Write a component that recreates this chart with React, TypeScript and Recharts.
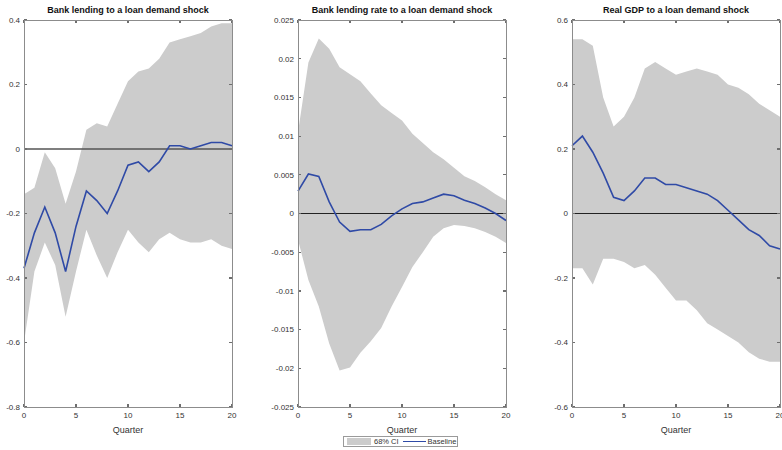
import { ComposedChart, Area, Line, XAxis, YAxis, ReferenceLine } from 'recharts'

const quarters = [0, 1, 2, 3, 4, 5, 6, 7, 8, 9, 10, 11, 12, 13, 14, 15, 16, 17, 18, 19, 20]

// Bank lending
const lendBase = [-0.37, -0.26, -0.18, -0.26, -0.38, -0.24, -0.13, -0.16, -0.2, -0.13, -0.05, -0.04, -0.07, -0.04, 0.01, 0.01, 0.0, 0.01, 0.02, 0.02, 0.01]
const lendUpper = [-0.14, -0.12, -0.01, -0.06, -0.17, -0.07, 0.06, 0.08, 0.07, 0.14, 0.21, 0.24, 0.25, 0.28, 0.33, 0.34, 0.35, 0.36, 0.38, 0.39, 0.39]
const lendLower = [-0.6, -0.38, -0.29, -0.36, -0.52, -0.38, -0.25, -0.33, -0.4, -0.32, -0.25, -0.29, -0.32, -0.28, -0.26, -0.28, -0.29, -0.29, -0.28, -0.3, -0.31]
const lendTicks = [-0.8, -0.6, -0.4, -0.2, 0, 0.2, 0.4]

// Bank lending rate
const rateBase = [0.0029, 0.0051, 0.0048, 0.0015, -0.0011, -0.0023, -0.0021, -0.0021, -0.0014, -0.0003, 0.0006, 0.0013, 0.0015, 0.002, 0.0025, 0.0023, 0.0017, 0.0013, 0.0007, 0.0, -0.0009]
const rateUpper = [0.0105, 0.0195, 0.0226, 0.0213, 0.0189, 0.018, 0.0171, 0.0155, 0.014, 0.013, 0.012, 0.0103, 0.0091, 0.0079, 0.007, 0.0059, 0.0048, 0.0042, 0.0034, 0.0025, 0.0017]
const rateLower = [-0.0034, -0.0086, -0.012, -0.0168, -0.0203, -0.0199, -0.018, -0.0165, -0.0148, -0.012, -0.0095, -0.0069, -0.005, -0.003, -0.0019, -0.0015, -0.0016, -0.0019, -0.0024, -0.003, -0.0038]
const rateTicks = [-0.025, -0.02, -0.015, -0.01, -0.005, 0, 0.005, 0.01, 0.015, 0.02, 0.025]

// Real GDP
const gdpBase = [0.21, 0.24, 0.19, 0.125, 0.05, 0.04, 0.07, 0.11, 0.11, 0.09, 0.09, 0.08, 0.07, 0.06, 0.04, 0.01, -0.02, -0.05, -0.068, -0.1, -0.11]
const gdpUpper = [0.54, 0.54, 0.52, 0.36, 0.27, 0.3, 0.36, 0.45, 0.47, 0.45, 0.43, 0.44, 0.45, 0.44, 0.43, 0.4, 0.39, 0.37, 0.34, 0.32, 0.3]
const gdpLower = [-0.17, -0.17, -0.22, -0.14, -0.14, -0.15, -0.17, -0.16, -0.19, -0.23, -0.27, -0.27, -0.3, -0.34, -0.36, -0.38, -0.4, -0.43, -0.45, -0.46, -0.46]
const gdpTicks = [-0.6, -0.4, -0.2, 0, 0.2, 0.4, 0.6]

const xTicks = [0, 5, 10, 15, 20]

const FONT = '"Liberation Sans", Arial, sans-serif'
const BAND = '#cccccc'
const BLUE = '#2f4aa6'
const AXIS = '#6e6e6e'
const TEXT = '#333333'
const PLOT_W = 208
const PLOT_H = 387
const PLOT_TOP = 20
const TICK = 3
const X_MAX = 20

interface PanelProps {
  title: string
  plotLeft: number
  base: number[]
  upper: number[]
  lower: number[]
  ticks: number[]
  zeroColor: string
  zeroWidth: number
}

function Panel({ title, plotLeft, base, upper, lower, ticks, zeroColor, zeroWidth }: PanelProps) {
  const data = quarters.map((q, i) => ({ q, base: base[i], ci: [lower[i], upper[i]] }))
  const lo = ticks[0]
  const hi = ticks[ticks.length - 1]
  // inward tick length in data units
  const dx = (X_MAX * TICK) / PLOT_W
  const dy = ((hi - lo) * TICK) / PLOT_H
  const tickProps = { ifOverflow: 'visible' as const, stroke: AXIS, strokeWidth: 1.2, shapeRendering: 'crispEdges' }
  return (
    <>
      <div style={{ position: 'absolute', left: plotLeft - 40, top: 0, width: 262, height: 450 }}>
        <div
          style={{
            position: 'absolute',
            left: 40,
            width: PLOT_W,
            top: 5,
            textAlign: 'center',
            fontFamily: FONT,
            fontWeight: 'bold',
            fontSize: 9,
            color: '#111',
            whiteSpace: 'nowrap',
          }}
        >
          {title}
        </div>
        <ComposedChart width={262} height={450} data={data} margin={{ top: PLOT_TOP, right: 14, left: 0, bottom: 13 }}>
          <XAxis
            dataKey="q"
            type="number"
            domain={[0, X_MAX]}
            ticks={xTicks}
            axisLine={false}
            tickLine={false}
            tickMargin={5}
            tickSize={0}
            height={30}
            tick={{ fontSize: 8, fill: TEXT, fontFamily: FONT }}
            label={{ value: 'Quarter', position: 'insideBottom', offset: 4, fontSize: 9, fill: TEXT, fontFamily: FONT }}
          />
          <YAxis
            type="number"
            domain={[lo, hi]}
            ticks={ticks}
            axisLine={false}
            tickLine={false}
            tickMargin={4}
            tickSize={0}
            width={40}
            tick={{ fontSize: 8, fill: TEXT, fontFamily: FONT }}
          />
          <Area dataKey="ci" type="linear" fill={BAND} fillOpacity={1} stroke="none" isAnimationActive={false} />
          <ReferenceLine y={0} stroke={zeroColor} strokeWidth={zeroWidth} />
          {/* inward tick marks on all four sides */}
          {ticks.map((t) => (
            <ReferenceLine key={`l${t}`} {...tickProps} segment={[{ x: 0, y: t }, { x: dx, y: t }]} />
          ))}
          {ticks.map((t) => (
            <ReferenceLine key={`r${t}`} {...tickProps} segment={[{ x: X_MAX - dx, y: t }, { x: X_MAX, y: t }]} />
          ))}
          {xTicks.map((t) => (
            <ReferenceLine key={`b${t}`} {...tickProps} segment={[{ x: t, y: lo }, { x: t, y: lo + dy }]} />
          ))}
          {xTicks.map((t) => (
            <ReferenceLine key={`t${t}`} {...tickProps} segment={[{ x: t, y: hi - dy }, { x: t, y: hi }]} />
          ))}
          <Line dataKey="base" type="linear" stroke={BLUE} strokeWidth={1.6} dot={false} isAnimationActive={false} />
        </ComposedChart>
      </div>
      {/* box around the plot area */}
      <div
        style={{
          position: 'absolute',
          left: plotLeft,
          top: PLOT_TOP,
          width: PLOT_W + 1,
          height: PLOT_H + 1,
          border: '1px solid #8c8c8c',
          boxSizing: 'border-box',
          pointerEvents: 'none',
        }}
      />
    </>
  )
}

export default function App() {
  return (
    <div style={{ position: 'absolute', left: 0, top: 0, width: 782, height: 450, background: '#fff', overflow: 'hidden' }}>
      <Panel
        title="Bank lending to a loan demand shock"
        plotLeft={24}
        base={lendBase}
        upper={lendUpper}
        lower={lendLower}
        ticks={lendTicks}
        zeroColor="#555555"
        zeroWidth={1.6}
      />
      <Panel
        title="Bank lending rate to a loan demand shock"
        plotLeft={298}
        base={rateBase}
        upper={rateUpper}
        lower={rateLower}
        ticks={rateTicks}
        zeroColor="#222222"
        zeroWidth={1}
      />
      <Panel
        title="Real GDP to a loan demand shock"
        plotLeft={572}
        base={gdpBase}
        upper={gdpUpper}
        lower={gdpLower}
        ticks={gdpTicks}
        zeroColor="#222222"
        zeroWidth={1}
      />
      <div
        style={{
          position: 'absolute',
          left: 343,
          top: 436,
          width: 115,
          height: 11,
          border: '1px solid #9a9a9a',
          background: '#fff',
          boxSizing: 'border-box',
          fontFamily: FONT,
          fontSize: 7.5,
          color: TEXT,
          display: 'flex',
          alignItems: 'center',
        }}
      >
        <div style={{ marginLeft: 3, width: 24, height: 7, background: BAND }} />
        <span style={{ marginLeft: 3 }}>68% CI</span>
        <div style={{ marginLeft: 4, width: 23, height: 0, borderTop: `1.6px solid ${BLUE}` }} />
        <span style={{ marginLeft: 2 }}>Baseline</span>
      </div>
    </div>
  )
}
